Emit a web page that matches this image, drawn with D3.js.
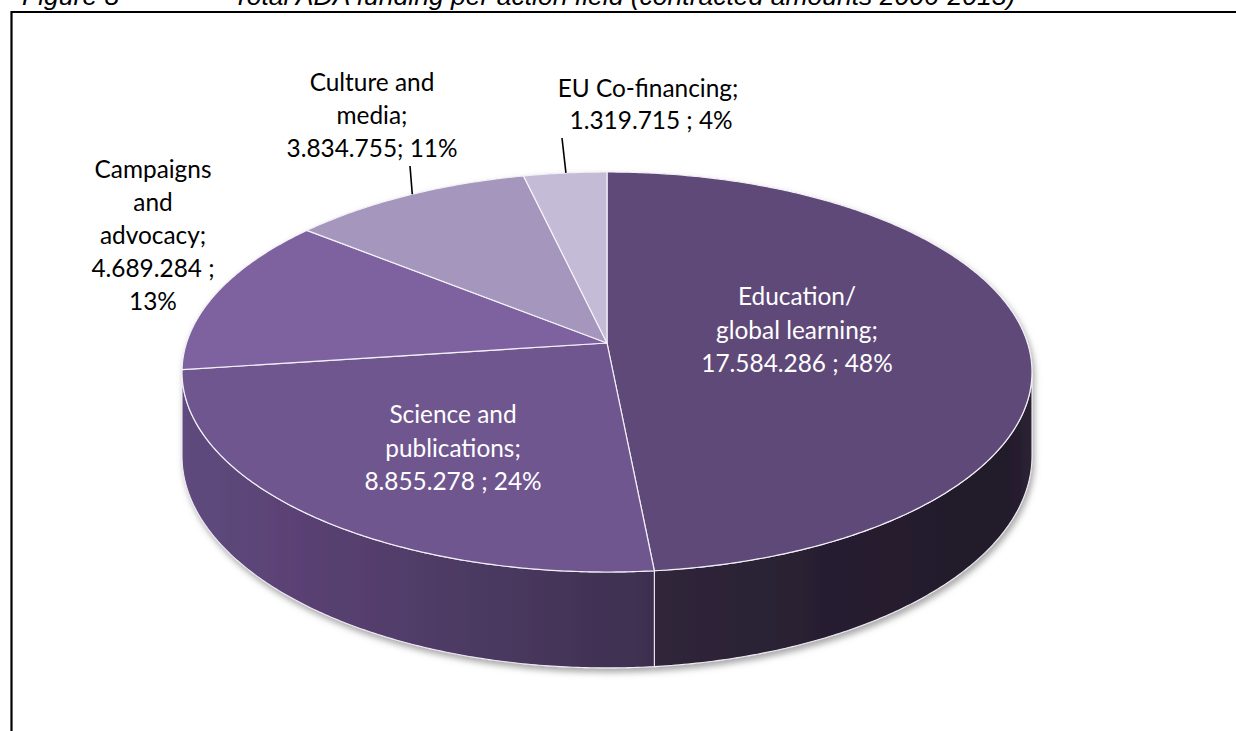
<!DOCTYPE html>
<html>
<head>
<meta charset="utf-8">
<script src="https://cdn.jsdelivr.net/npm/d3@7"></script>
<style>
  html, body { margin: 0; padding: 0; background: #ffffff; }
  svg { display: block; }
</style>
</head>
<body>
<svg id="chart" width="1236" height="731"></svg>
<script>
// ADA funding per action field, contracted amounts 2006-2013 (EUR)
const categories = [
  "Education/ global learning",
  "Science and publications",
  "Campaigns and advocacy",
  "Culture and media",
  "EU Co-financing"
];
const values = [17584286, 8855278, 4689284, 3834755, 1319715];

// How each data label is broken into lines ({v} = amount, {p} = share)
const labelLines = [
  ["Education/", "global learning;", "{v} ; {p}"],
  ["Science and", "publications;", "{v} ; {p}"],
  ["Campaigns", "and", "advocacy;", "{v} ;", "{p}"],
  ["Culture and", "media;", "{v}; {p}"],
  ["EU Co-financing;", "\u00a0{v} ; {p}"]
];

const topColors  = ["#5e4a78", "#70568f", "#7e62a0", "#a596bd", "#c4bbd6"];
const wallStops  = [
  [["0%", "#30263a"], ["45%", "#281f31"], ["92%", "#211a2a"], ["100%", "#2b2334"]],
  [["0%", "#5e4b7d"], ["25%", "#5a4174"], ["65%", "#4a3960"], ["100%", "#3d2f4f"]],
  [["0%", "#5e4b7d"], ["100%", "#5a4174"]],
  [["0%", "#6e5c8a"], ["100%", "#6e5c8a"]],
  [["0%", "#8d82a2"], ["100%", "#8d82a2"]]
];
const labelInside = [true, true, false, false, false];
// label anchor (centre x, first baseline y, line step)
const labelLayout = [
  { x: 797, y: 305, step: 33.5 },
  { x: 453, y: 423, step: 33.5 },
  { x: 153, y: 178, step: 33 },
  { x: 372, y: 90.5, step: 33.3 },
  { x: 648, y: 96.7, step: 32.6 }
];
// leader lines for the labels outside the pie: start point above the rim
const leaders = [
  null, null, null,
  { x: 410, y: 166, dx: 2 },
  { x: 562, y: 138, dx: 4 }
];

const svg = d3.select("#chart");
const W = 1236, H = 731;

svg.append("rect").attr("width", W).attr("height", H).attr("fill", "#ffffff");

// ---- caption (its upper part runs off the top of the page) ----
const cap = svg.append("g")
  .attr("font-family", "'Liberation Sans', Arial, sans-serif")
  .attr("font-style", "italic")
  .attr("font-size", 26.5)
  .attr("fill", "#000");
cap.append("text").attr("x", 22).attr("y", 5).text("Figure 8");
cap.append("text").attr("x", 233).attr("y", 5)
  .text("Total ADA funding per action field (contracted amounts 2006-2013)");

// ---- frame ----
svg.append("path")
  .attr("d", `M11.5,${H} L11.5,12 L${W},12`)
  .attr("fill", "none").attr("stroke", "#000").attr("stroke-width", 2.2);

// ---- 3D pie geometry ----
const cx = 607, cy = 343;        // projected centre of the top face
const R = 420.5, Ry = 195.8;     // disk radius on screen (x) and foreshortened (y)
const persp = 0.145;             // perspective strength (front larger than back)
const depth = 82;                // wall height

function proj(theta, h) {
  const u = Math.sin(theta), v = -Math.cos(theta);
  const s = 1 / (1 - persp * v);
  return [cx + R * u * s, cy + (Ry * v + depth * h) * s];
}

const pie = d3.pie().sort(null).startAngle(0).endAngle(2 * Math.PI);
const arcs = pie(values);
const total = d3.sum(values);

const locale = d3.formatLocale({ decimal: ",", thousands: ".", grouping: [3], currency: ["", "€"] });
const fmt = locale.format(",d");
const pct = v => Math.round(v / total * 100) + "%";

const defs = svg.append("defs");
const shadow = defs.append("filter").attr("id", "pieShadow")
  .attr("x", "-10%").attr("y", "-10%").attr("width", "120%").attr("height", "130%");
shadow.append("feDropShadow")
  .attr("dx", 2).attr("dy", 4).attr("stdDeviation", 3)
  .attr("flood-color", "#6e6e6e").attr("flood-opacity", 0.6);

wallStops.forEach((stops, i) => {
  const g = defs.append("linearGradient").attr("id", "wall" + i)
    .attr("x1", "0%").attr("x2", "100%").attr("y1", "0%").attr("y2", "0%");
  stops.forEach(([o, c]) => g.append("stop").attr("offset", o).attr("stop-color", c));
});

function edgePoints(a0, a1, h, n) {
  const pts = [];
  const steps = Math.max(2, Math.ceil(Math.abs(a1 - a0) / (Math.PI / 180) * n));
  for (let k = 0; k <= steps; k++) pts.push(proj(a0 + (a1 - a0) * k / steps, h));
  return pts;
}

// visible front part of the outer wall
const frontA = Math.acos(-persp);
const frontB = 2 * Math.PI - frontA;

const pieG = svg.append("g").attr("filter", "url(#pieShadow)");

// walls
arcs.forEach((d, i) => {
  const a0 = Math.max(d.startAngle, frontA), a1 = Math.min(d.endAngle, frontB);
  if (a1 <= a0) return;
  const topEdge = edgePoints(a0, a1, 0, 2);
  const botEdge = edgePoints(a1, a0, 1, 2);
  pieG.append("path")
    .attr("d", "M" + topEdge.concat(botEdge).map(p => p.join(",")).join("L") + "Z")
    .attr("fill", `url(#wall${i})`)
    .attr("stroke", "#efeaf4").attr("stroke-width", 1.1).attr("stroke-linejoin", "round");
});

// top faces
arcs.forEach((d, i) => {
  const rim = edgePoints(d.startAngle, d.endAngle, 0, 2);
  pieG.append("path")
    .attr("d", `M${cx},${cy}L` + rim.map(p => p.join(",")).join("L") + "Z")
    .attr("fill", topColors[i])
    .attr("stroke", "#f3f0f7").attr("stroke-width", 1.2).attr("stroke-linejoin", "round");
});

// ---- leader lines ----
arcs.forEach((d, i) => {
  const L = leaders[i];
  if (!L) return;
  const targetX = L.x + L.dx;
  let best = null;
  d3.range(0, 201).forEach(k => {
    const t = d.startAngle + (d.endAngle - d.startAngle) * k / 200;
    const p = proj(t, 0);
    if (!best || Math.abs(p[0] - targetX) < Math.abs(best[0] - targetX)) best = p;
  });
  svg.append("line")
    .attr("x1", L.x).attr("y1", L.y).attr("x2", best[0]).attr("y2", best[1])
    .attr("stroke", "#000").attr("stroke-width", 1.6);
});

// ---- data labels ----
const lab = svg.append("g")
  .attr("font-family", "Lato, 'Open Sans', sans-serif")
  .attr("font-size", 24.4)
  .attr("text-anchor", "middle");

arcs.forEach((d, i) => {
  const pos = labelLayout[i];
  const t = lab.append("text")
    .attr("fill", labelInside[i] ? "#ffffff" : "#000000");
  labelLines[i].forEach((line, j) => {
    t.append("tspan")
      .attr("x", pos.x).attr("y", pos.y + j * pos.step)
      .text(line.replace("{v}", fmt(values[i])).replace("{p}", pct(values[i])));
  });
});
</script>
</body>
</html>
